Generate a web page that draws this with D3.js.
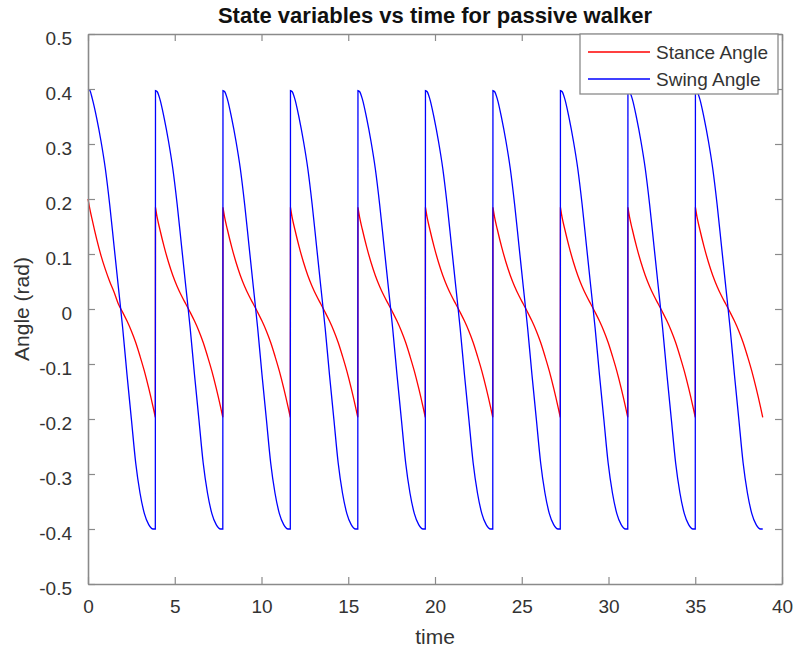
<!DOCTYPE html>
<html>
<head>
<meta charset="utf-8">
<script src="https://cdn.jsdelivr.net/npm/d3@7"></script>
<style>
  body { margin: 0; background: #fff; }
  text { font-family: "Liberation Sans", Arial, Helvetica, sans-serif; }
</style>
</head>
<body>
<div id="chart"></div>
<script>
// step start times (s)
const stepStarts = [0, 3.89, 7.78, 11.67, 15.56, 19.45, 23.34, 27.23, 31.12, 35.01];
// time within a step
const phase = [0, 0.1, 0.25, 0.5, 0.75, 1.0, 1.25, 1.5, 1.75, 2.0, 2.25, 2.5, 2.75, 3.0, 3.25, 3.5, 3.75, 3.88];
const stanceCycle = [0.185, 0.166, 0.145, 0.113, 0.085, 0.061, 0.041, 0.024, 0.009, -0.006, -0.022, -0.04, -0.061, -0.086, -0.113, -0.144, -0.178, -0.197];
const swingCycle = [0.397, 0.395, 0.382, 0.347, 0.305, 0.255, 0.19, 0.115, 0.04, -0.035, -0.12, -0.2, -0.28, -0.335, -0.372, -0.392, -0.4, -0.4];
// the very first step starts a little higher
const firstStance = [0.2, 0.183, 0.161, 0.127, 0.097, 0.072, 0.05, 0.031];
const firstSwing = [0.4, 0.398];

const xTicks = [0, 5, 10, 15, 20, 25, 30, 35, 40];
const yTicks = [-0.5, -0.4, -0.3, -0.2, -0.1, 0, 0.1, 0.2, 0.3, 0.4, 0.5];
const seriesNames = ["Stance Angle", "Swing Angle"];
const seriesColors = ["#ff0000", "#0000ff"];

const width = 794, height = 651;
const margin = {left: 88, right: 12, top: 34, bottom: 67};
const axisColor = "#8a8a8a", textColor = "#333";

const svg = d3.select("#chart").append("svg")
    .attr("width", width)
    .attr("height", height);

const x = d3.scaleLinear().domain([0, 40]).range([margin.left, width - margin.right]);
const y = d3.scaleLinear().domain([-0.5, 0.5]).range([height - margin.bottom, margin.top]);

// build the step by step data
function buildSteps(cycle, first) {
    return stepStarts.map((t0, i) => phase.map((p, j) => ({
        t: t0 + p,
        v: (i === 0 && j < first.length) ? first[j] : cycle[j]
    })));
}
const series = [buildSteps(stanceCycle, firstStance), buildSteps(swingCycle, firstSwing)];

const line = d3.line()
    .x(d => x(d.t))
    .y(d => y(d.v))
    .curve(d3.curveMonotoneX);

series.forEach((steps, k) => {
    const d = steps.map((pts, i) => {
        const s = line(pts);
        return i ? "L" + s.slice(1) : s;
    }).join("");
    svg.append("path")
        .attr("d", d)
        .attr("fill", "none")
        .attr("stroke", seriesColors[k])
        .attr("stroke-width", 1.3);
});

// axes box, ticks pointing inward
const tick = 7;
function styleAxis(g) {
    g.select(".domain").attr("stroke", axisColor).attr("stroke-width", 1.6);
    g.selectAll(".tick line").attr("stroke", axisColor).attr("stroke-width", 1.2);
    g.selectAll(".tick text")
        .attr("fill", textColor)
        .style("font-family", '"Liberation Sans", Arial, sans-serif')
        .style("font-size", "19px");
}

svg.append("g")
    .attr("transform", `translate(0,${height - margin.bottom})`)
    .call(d3.axisBottom(x).tickValues(xTicks).tickSizeInner(-tick).tickSizeOuter(0).tickPadding(16).tickFormat(d3.format("d")))
    .call(styleAxis);

svg.append("g")
    .attr("transform", `translate(0,${margin.top})`)
    .call(d3.axisTop(x).tickValues(xTicks).tickSizeInner(-tick).tickSizeOuter(0).tickFormat(""))
    .call(styleAxis);

svg.append("g")
    .attr("transform", `translate(${margin.left},0)`)
    .call(d3.axisLeft(y).tickValues(yTicks).tickSizeInner(-tick).tickSizeOuter(0).tickPadding(16)
        .tickFormat(d => d === 0 ? "0" : d3.format(".1f")(d).replace("−", "-")))
    .call(styleAxis)
    .selectAll(".tick text").attr("dy", "0.55em");

svg.append("g")
    .attr("transform", `translate(${width - margin.right},0)`)
    .call(d3.axisRight(y).tickValues(yTicks).tickSizeInner(-tick).tickSizeOuter(0).tickFormat(""))
    .call(styleAxis);

// title and axis labels
svg.append("text")
    .attr("x", (margin.left + width - margin.right) / 2)
    .attr("y", 23)
    .attr("text-anchor", "middle")
    .attr("font-weight", "bold")
    .attr("font-size", 22)
    .attr("fill", "#111")
    .text("State variables vs time for passive walker");

svg.append("text")
    .attr("x", (margin.left + width - margin.right) / 2)
    .attr("y", 644)
    .attr("text-anchor", "middle")
    .attr("font-size", 21)
    .attr("fill", textColor)
    .text("time");

svg.append("text")
    .attr("transform", `translate(29,${(margin.top + height - margin.bottom) / 2}) rotate(-90)`)
    .attr("text-anchor", "middle")
    .attr("font-size", 21)
    .attr("fill", textColor)
    .text("Angle (rad)");

// legend
const legend = svg.append("g").attr("transform", "translate(580,34)");
legend.append("rect")
    .attr("width", 198)
    .attr("height", 60)
    .attr("fill", "#fff")
    .attr("stroke", axisColor)
    .attr("stroke-width", 1.3);

seriesNames.forEach((name, i) => {
    const ly = 18 + i * 27;
    legend.append("line")
        .attr("x1", 8).attr("x2", 70)
        .attr("y1", ly).attr("y2", ly)
        .attr("stroke", seriesColors[i])
        .attr("stroke-width", 1.3);
    legend.append("text")
        .attr("x", 76)
        .attr("y", ly + 7)
        .attr("font-size", 19)
        .attr("fill", textColor)
        .text(name);
});
</script>
</body>
</html>
